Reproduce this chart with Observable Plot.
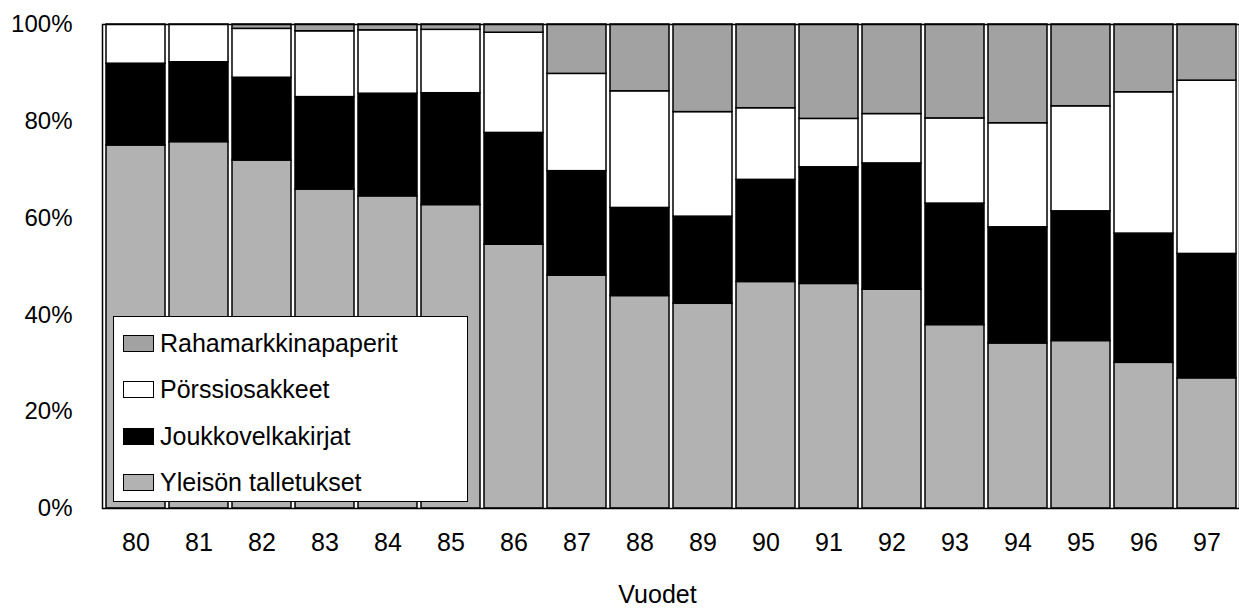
<!DOCTYPE html>
<html><head><meta charset="utf-8">
<script src="https://cdn.jsdelivr.net/npm/d3@7"></script>
<script src="https://cdn.jsdelivr.net/npm/@observablehq/plot@0.6"></script>
<style>
body{margin:0;background:#fff;}
#wrap{position:relative;width:1239px;height:609px;overflow:hidden;font-family:"Liberation Sans",Arial,sans-serif;}
#legend{position:absolute;left:113px;top:316px;width:353px;height:184px;border:1.5px solid #000;background:#fff;}
.row{position:absolute;left:9px;height:28px;display:flex;align-items:center;font-size:25px;color:#000;white-space:nowrap;}
.sw{width:31px;height:17px;border:1px solid #000;margin-right:6px;box-sizing:border-box;}
</style></head>
<body><div id="wrap"><div id="chart"></div><div id="legend"></div></div>
<script>
const years = ["80","81","82","83","84","85","86","87","88","89","90","91","92","93","94","95","96","97"];
const series = ["Yleisön talletukset","Joukkovelkakirjat","Pörssiosakkeet","Rahamarkkinapaperit"];
const yleison = [75.0,75.7,71.9,65.9,64.5,62.7,54.5,48.1,43.9,42.3,46.8,46.4,45.2,37.9,34.1,34.6,30.1,26.9];
const joukko  = [16.9,16.5,17.1,19.1,21.2,23.1,23.1,21.6,18.2,18.0,21.1,24.1,26.1,25.1,24.0,26.8,26.7,25.7];
const porssi  = [8.1,7.8,10.1,13.6,13.1,13.1,20.7,20.1,24.1,21.6,14.8,10.0,10.2,17.6,21.5,21.7,29.2,35.8];
const raha    = [0.0,0.0,0.9,1.4,1.2,1.1,1.7,10.2,13.8,18.1,17.3,19.5,18.5,19.4,20.4,16.9,14.0,11.6];
const colors  = ["#b2b2b2","#000000","#ffffff","#a2a2a2"];
const yTicks  = [0,20,40,60,80,100];
const xLabel  = "Vuodet";

const valuesBySeries = [yleison, joukko, porssi, raha];
const data = years.flatMap((yr, i) => series.map((s, j) => ({year: yr, series: s, value: valuesBySeries[j][i]})));

const chart = Plot.plot({
  width: 1239, height: 609,
  marginTop: 24, marginBottom: 101, marginLeft: 102, marginRight: 0,
  style: {fontFamily: '"Liberation Sans", Arial, sans-serif', fontSize: "24px", color: "#000", background: "#fff"},
  x: {domain: years, range: [102, 1241], paddingInner: 0.06, paddingOuter: 0.02, tickSize: 0, tickPadding: 25, label: null},
  y: {domain: [0, 100], range: [508, 24], ticks: yTicks, tickFormat: d => d + "%", tickSize: 0, tickPadding: 30, label: null},
  color: {domain: series, range: colors},
  marks: [
    Plot.barY(data, {x: "year", y: "value", fill: "series", stroke: "#000", strokeWidth: 1.5}),
    Plot.frame({stroke: "#000", strokeWidth: 1.5}),
    Plot.text([xLabel], {text: d => d, frameAnchor: "bottom-left", dx: 555, dy: 86, textAnchor: "middle", lineAnchor: "middle", fontSize: 25, fill: "#000"})
  ]
});
d3.select(chart).selectAll('[aria-label="x-axis tick label"]').attr("font-size", 25);
document.getElementById("chart").appendChild(chart);

// legend
const legend = document.getElementById("legend");
const rowTops = [12, 58, 105, 151];
series.slice().reverse().forEach((s, k) => {
  const idx = series.indexOf(s);
  const row = document.createElement("div");
  row.className = "row";
  row.style.top = rowTops[k] + "px";
  const sw = document.createElement("div");
  sw.className = "sw";
  sw.style.background = colors[idx];
  row.appendChild(sw);
  const t = document.createElement("span");
  t.textContent = s;
  row.appendChild(t);
  legend.appendChild(row);
});
</script>
</body></html>
